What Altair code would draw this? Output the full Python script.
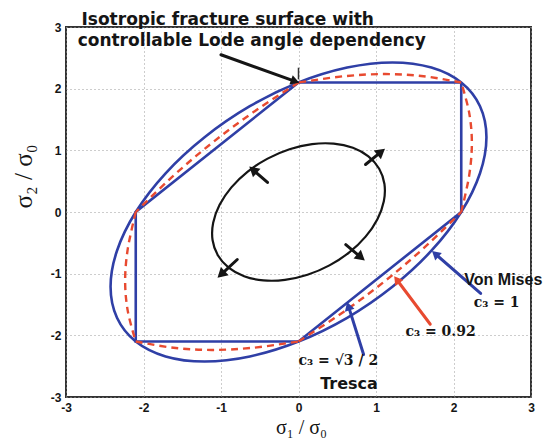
import math
import altair as alt
import pandas as pd

# ---------------- data ----------------
ticks = [-3, -2, -1, 0, 1, 2, 3]

# Von Mises ellipse (c3 = 1)
vm_x = [2.10, 1.715, 1.212, 0.628, 0.0, -0.628, -1.212, -1.715, -2.10, -2.342, -2.425, -2.342,
        -2.10, -1.715, -1.212, -0.628, 0.0, 0.628, 1.212, 1.715, 2.10, 2.342, 2.425, 2.342]
vm_y = [2.10, 2.342, 2.425, 2.342, 2.10, 1.715, 1.212, 0.628, 0.0, -0.628, -1.212, -1.715,
        -2.10, -2.342, -2.425, -2.342, -2.10, -1.715, -1.212, -0.628, 0.0, 0.628, 1.212, 1.715]

# Tresca hexagon (c3 = sqrt(3)/2)
tr_x = [2.10, 0.0, -2.10, -2.10, 0.0, 2.10, 2.10]
tr_y = [2.10, 2.10, 0.0, -2.10, -2.10, 0.0, 2.10]

# c3 = 0.92 surface, six arcs between the hexagon vertices
c92_seg = [1] * 5 + [2] * 5 + [3] * 5 + [4] * 5 + [5] * 5 + [6] * 5
c92_x = [2.10, 1.612, 1.118, 0.590, 0.0,
         0.0, -0.590, -1.118, -1.612, -2.10,
         -2.10, -2.202, -2.237, -2.202, -2.10,
         -2.10, -1.612, -1.118, -0.590, 0.0,
         0.0, 0.590, 1.118, 1.612, 2.10,
         2.10, 2.202, 2.237, 2.202, 2.10]
c92_y = [2.10, 2.202, 2.237, 2.202, 2.10,
         2.10, 1.612, 1.118, 0.590, 0.0,
         0.0, -0.590, -1.118, -1.612, -2.10,
         -2.10, -2.202, -2.237, -2.202, -2.10,
         -2.10, -1.612, -1.118, -0.590, 0.0,
         0.0, 0.590, 1.118, 1.612, 2.10]

# inner (black) loading ellipse
in_x = [0.902, 0.702, 0.454, 0.175, -0.116, -0.399, -0.655, -0.866, -1.018, -1.101, -1.109, -1.041,
        -0.902, -0.702, -0.454, -0.175, 0.116, 0.399, 0.655, 0.866, 1.018, 1.101, 1.109, 1.041]
in_y = [0.902, 1.041, 1.109, 1.101, 1.018, 0.866, 0.655, 0.399, 0.116, -0.175, -0.454, -0.702,
        -0.902, -1.041, -1.109, -1.101, -1.018, -0.866, -0.655, -0.399, -0.116, 0.175, 0.454, 0.702]

# arrows: tail x, tail y, tip x, tip y
black_tx = [0.865, -0.40, 0.61, -0.79]
black_ty = [0.77, 0.48, -0.53, -0.77]
black_hx = [1.10, -0.62, 0.84, -1.03]
black_hy = [1.01, 0.72, -0.77, -1.05]

note_tx = [-1.00]
note_ty = [2.55]
note_hx = [0.0]
note_hy = [2.10]

blue_tx = [2.35, 0.84]
blue_ty = [-1.32, -2.31]
blue_hx = [1.73, 0.63]
blue_hy = [-0.64, -1.47]

red_tx = [1.70]
red_ty = [-1.82]
red_hx = [1.24]
red_hy = [-1.05]

title_lines = ["Isotropic fracture surface with", "controllable Lode angle dependency"]
title_x = [-2.80, -2.85]
title_y = [3.04, 2.69]

vm_label = ["Von Mises"]
vm_label_x = [2.14]
vm_label_y = [-1.11]

tresca_label = ["Tresca"]
tresca_label_x = [0.28]
tresca_label_y = [-2.79]

serif_labels = ["c\u2083 = 1", "c\u2083 = 0.92", "c\u2083 = \u221a3 / 2"]
serif_x = [2.26, 1.38, 0.0]
serif_y = [-1.475, -1.95, -2.41]

# ---------------- layout ----------------
W, H = 465, 370
PX, PY = W / 6.0, H / 6.0
BLUE = "#2f3fa6"
RED = "#e84a30"
INK = "#151515"

xs = alt.Scale(domain=[-3, 3], nice=False, zero=False)
ys = alt.Scale(domain=[-3, 3], nice=False, zero=False)

axis_common = dict(
    values=ticks, grid=True, ticks=False, domain=False,
    labelFont="Liberation Sans", labelFontWeight="bold", labelFontSize=12,
    labelColor=INK, labelFlush=False, labelOverlap=False,
    labelExpr="'' + datum.value",
    gridColor="#9a9a9a", gridDash=[1, 3], gridWidth=1,
    titleFont="Liberation Serif", titleFontWeight="normal",
    titleColor=INK,
)
x_axis = alt.Axis(title="σ₁ / σ₀", labelPadding=5, titleBaseline="alphabetic",
                  titleFontSize=20, titleX=235, titleY=36.5, **axis_common)
y_axis = alt.Axis(title="σ₂ / σ₀", labelPadding=5, titleBaseline="alphabetic",
                  titleFontSize=25, titleX=-35, titleY=149, titleAngle=270, **axis_common)


def X(f):
    return alt.X(f, type="quantitative", scale=xs, axis=x_axis)


def Y(f):
    return alt.Y(f, type="quantitative", scale=ys, axis=y_axis)


vm_df = pd.DataFrame({"x": vm_x, "y": vm_y, "i": range(len(vm_x))})
tr_df = pd.DataFrame({"x": tr_x, "y": tr_y, "i": range(len(tr_x))})
c92_df = pd.DataFrame({"x": c92_x, "y": c92_y, "s": c92_seg, "i": range(len(c92_x))})
in_df = pd.DataFrame({"x": in_x, "y": in_y, "i": range(len(in_x))})

vm = alt.Chart(vm_df).mark_line(color=BLUE, strokeWidth=2.6, interpolate="cardinal-closed").encode(
    x=X("x"), y=Y("y"), order="i:Q")
tr = alt.Chart(tr_df).mark_line(color=BLUE, strokeWidth=2.6, strokeJoin="miter").encode(
    x=X("x"), y=Y("y"), order="i:Q")
c92 = alt.Chart(c92_df).mark_line(color=RED, strokeWidth=2.4, strokeDash=[7, 5],
                                  interpolate="cardinal").encode(
    x=X("x"), y=Y("y"), detail="s:N", order="i:Q")
inner = alt.Chart(in_df).mark_line(color=INK, strokeWidth=2.2, interpolate="cardinal-closed").encode(
    x=X("x"), y=Y("y"), order="i:Q")

kink = alt.Chart(pd.DataFrame({"x": [0.0], "y": [2.15], "y2": [2.34]})).mark_rule(
    color="#333", strokeWidth=1.5).encode(x=X("x"), y=Y("y"), y2="y2:Q")


def arrows(tx, ty, hx, hy, color, width, size, back):
    rows = []
    for a, b, c, d in zip(tx, ty, hx, hy):
        dx = (c - a) * PX
        dy = (d - b) * PY
        L = math.hypot(dx, dy)
        ux, uy = dx / L, dy / L
        cx = c - ux * back / PX
        cy = d - uy * back / PY
        ang = math.degrees(math.atan2(dx, dy)) % 360
        rows.append({"tx": a, "ty": b, "cx": cx, "cy": cy, "ang": ang})
    df = pd.DataFrame(rows)
    shaft = alt.Chart(df).mark_rule(color=color, strokeWidth=width, strokeCap="round").encode(
        x=X("tx"), y=Y("ty"), x2="cx:Q", y2="cy:Q")
    head = alt.Chart(df).mark_point(shape="triangle", filled=True, opacity=1, color=color,
                                    size=size, strokeWidth=0).encode(
        x=X("cx"), y=Y("cy"), angle=alt.Angle("ang:Q", scale=None))
    return shaft + head


a_black = arrows(black_tx, black_ty, black_hx, black_hy, INK, 3, 130, 5)
a_note = arrows(note_tx, note_ty, note_hx, note_hy, INK, 3, 100, 5)
a_blue = arrows(blue_tx, blue_ty, blue_hx, blue_hy, BLUE, 3, 100, 5)
a_red = arrows(red_tx, red_ty, red_hx, red_hy, RED, 3, 100, 5)

title_df = pd.DataFrame({"t": title_lines, "x": title_x, "y": title_y})
title = alt.Chart(title_df).mark_text(align="left", baseline="alphabetic", font="DejaVu Sans",
                                      fontWeight="bold", fontSize=17, color=INK).encode(
    x=X("x"), y=Y("y"), text="t:N")

vm_lab_df = pd.DataFrame({"t": vm_label, "x": vm_label_x, "y": vm_label_y})
vm_lab = alt.Chart(vm_lab_df).mark_text(align="left", baseline="middle", font="Liberation Sans",
                                        fontWeight="bold", fontSize=16, color=INK).encode(
    x=X("x"), y=Y("y"), text="t:N")

tr_lab_df = pd.DataFrame({"t": tresca_label, "x": tresca_label_x, "y": tresca_label_y})
tr_lab = alt.Chart(tr_lab_df).mark_text(align="left", baseline="middle", font="DejaVu Sans",
                                        fontWeight="bold", fontSize=16, color=INK).encode(
    x=X("x"), y=Y("y"), text="t:N")

serif_df = pd.DataFrame({"t": serif_labels, "x": serif_x, "y": serif_y})
serif = alt.Chart(serif_df).mark_text(align="left", baseline="middle", font="DejaVu Serif",
                                      fontWeight="bold", fontSize=14, color=INK).encode(
    x=X("x"), y=Y("y"), text="t:N")

chart = alt.layer(vm, tr, c92, inner, kink, a_black, a_note, a_blue, a_red,
                  title, vm_lab, tr_lab, serif).properties(
    width=W, height=H,
    padding={"left": 58, "top": 19, "right": 13, "bottom": 41},
    autosize=alt.AutoSizeParams(type="none"),
).configure_view(stroke="#333", strokeWidth=2)

chart.save("out.html", embed_options={"renderer": "svg", "actions": False})
